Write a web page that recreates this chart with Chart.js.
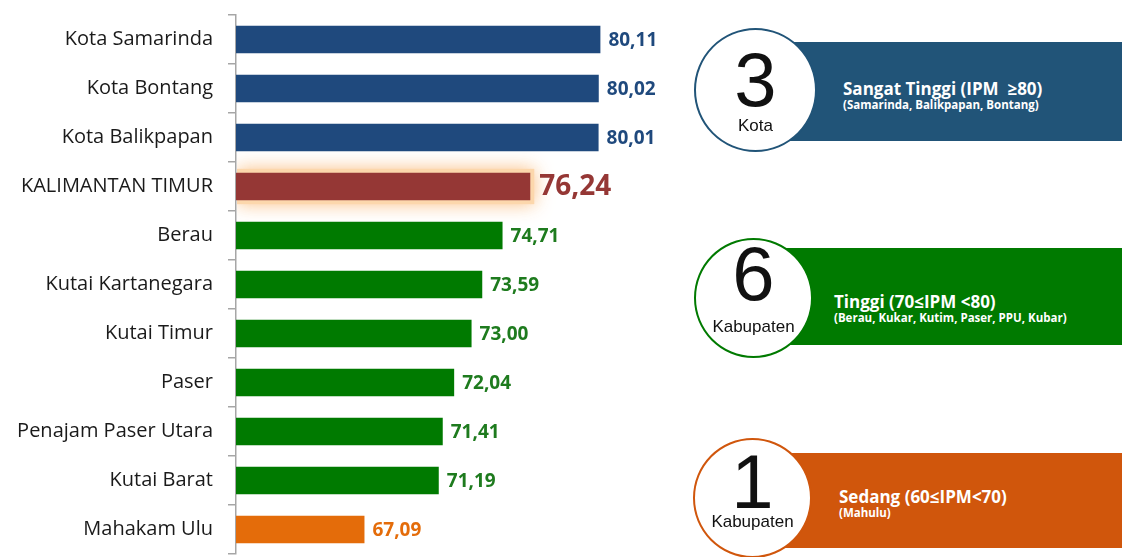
<!DOCTYPE html>
<html>
<head>
<meta charset="utf-8">
<script src="https://cdn.jsdelivr.net/npm/chart.js@4"></script>
<style>
  body { margin: 0; background: #fff; width: 1122px; height: 557px; overflow: hidden; position: relative; font-family: "Open Sans", sans-serif; }
  #wrap { position: absolute; left: 0; top: 0; width: 700px; height: 557px; }
  .band { position: absolute; left: 757px; width: 365px; color: #fff; font-family: "Open Sans", sans-serif; }
  .band .t1 { position: absolute; font-weight: bold; font-size: 17px; white-space: nowrap; line-height: 1; }
  .band .t2 { position: absolute; font-weight: bold; font-size: 11.5px; white-space: nowrap; line-height: 1; }
  .circ { position: absolute; border-radius: 50%; background: #fff; box-sizing: border-box; border: 2px solid; text-align: center; font-family: "Liberation Sans", Arial, sans-serif; color: #111; }
  .circ .num { position: absolute; left: 0; right: 0; font-size: 76px; line-height: 1; }
  .circ .sub { position: absolute; left: 0; right: 0; font-size: 17px; line-height: 1; }
</style>
</head>
<body>
<div id="wrap"><canvas id="ipm-chart"></canvas></div>

<div class="band" style="top:42px;height:99px;background:#215478;">
  <div class="t1" style="left:86px;top:38px;">Sangat Tinggi (IPM &nbsp;≥80)</div>
  <div class="t2" style="left:86px;top:57px;">(Samarinda, Balikpapan, Bontang)</div>
</div>
<div class="circ" style="left:694px;top:28px;width:123px;height:124px;border-color:#215478;">
  <div class="num" style="top:12px;">3</div>
  <div class="sub" style="top:87px;">Kota</div>
</div>

<div class="band" style="top:248px;height:97px;background:#007a00;">
  <div class="t1" style="left:77px;top:45px;">Tinggi (70≤IPM &lt;80)</div>
  <div class="t2" style="left:77px;top:64px;">(Berau, Kukar, Kutim, Paser, PPU, Kubar)</div>
</div>
<div class="circ" style="left:694px;top:238px;width:119px;height:120px;border-color:#007a00;">
  <div class="num" style="top:-4px;">6</div>
  <div class="sub" style="top:78px;">Kabupaten</div>
</div>

<div class="band" style="top:453px;height:95px;background:#d0560c;">
  <div class="t1" style="left:82px;top:35px;">Sedang (60≤IPM&lt;70)</div>
  <div class="t2" style="left:82px;top:54px;">(Mahulu)</div>
</div>
<div class="circ" style="left:693px;top:438px;width:119px;height:120px;border-color:#d0560c;">
  <div class="num" style="top:4px;">1</div>
  <div class="sub" style="top:73px;">Kabupaten</div>
</div>

<script>
// data IPM per kabupaten/kota
const wilayah = ['Kota Samarinda', 'Kota Bontang', 'Kota Balikpapan', 'KALIMANTAN TIMUR', 'Berau',
    'Kutai Kartanegara', 'Kutai Timur', 'Paser', 'Penajam Paser Utara', 'Kutai Barat', 'Mahakam Ulu'];
const ipm = [80.11, 80.02, 80.01, 76.24, 74.71, 73.59, 73.00, 72.04, 71.41, 71.19, 67.09];
const warnaBar = ['#1f497d', '#1f497d', '#1f497d', '#953735', '#007a00', '#007a00', '#007a00',
    '#007a00', '#007a00', '#007a00', '#e46c0a'];
const warnaLabel = ['#1f497d', '#1f497d', '#1f497d', '#953735', '#1e7b1e', '#1e7b1e', '#1e7b1e',
    '#1e7b1e', '#1e7b1e', '#1e7b1e', '#e46c0a'];
const idxProv = 3;

// glow oranye di belakang bar provinsi
const glowPlugin = {
    id: 'glow',
    beforeDatasetsDraw(chart) {
        const bar = chart.getDatasetMeta(0).data[idxProv];
        if (!bar) return;
        const ctx = chart.ctx;
        const left = chart.chartArea.left + 1;
        const h = bar.height;
        ctx.save();
        ctx.beginPath();
        ctx.rect(left, 0, chart.width, chart.height);
        ctx.clip();
        ctx.shadowColor = 'rgba(250,185,120,0.9)';
        ctx.shadowBlur = 18;
        ctx.fillStyle = 'rgba(252,215,172,1)';
        ctx.fillRect(left, bar.y - h / 2 - 4, bar.x - left + 4, h + 8);
        ctx.restore();
    }
};

// label nilai di ujung bar (format koma)
const labelPlugin = {
    id: 'nilai',
    afterDatasetsDraw(chart) {
        const ctx = chart.ctx;
        chart.getDatasetMeta(0).data.forEach((bar, i) => {
            ctx.save();
            ctx.fillStyle = warnaLabel[i];
            ctx.font = i === idxProv ? 'bold 28px "Open Sans"' : 'bold 19px "Open Sans"';
            ctx.textBaseline = 'middle';
            ctx.fillText(ipm[i].toFixed(2).replace('.', ','), bar.x + (i === idxProv ? 9 : 8), bar.y + 1);
            ctx.restore();
        });
    }
};

new Chart(document.getElementById('ipm-chart'), {
    type: 'bar',
    data: {
        labels: wilayah,
        datasets: [{
            data: ipm,
            backgroundColor: warnaBar,
            borderWidth: 0,
            categoryPercentage: 0.62,
            barPercentage: 0.9
        }]
    },
    options: {
        indexAxis: 'y',
        responsive: true,
        maintainAspectRatio: false,
        animation: false,
        layout: { padding: { top: 15, bottom: 3, left: 0, right: 11 } },
        plugins: { legend: { display: false }, tooltip: { enabled: false } },
        scales: {
            x: { display: false, min: 60, max: 85 },
            y: {
                afterFit(scale) {
                    scale.width = 236;
                    scale.paddingTop = 0;
                    scale.paddingBottom = 0;
                },
                border: { display: true, color: '#a6a6a6', width: 1.5 },
                grid: { drawOnChartArea: false, drawTicks: true, tickLength: 8, color: '#a6a6a6', lineWidth: 1.5 },
                ticks: { color: '#1a1a1a', padding: 15, font: { family: 'Open Sans', size: 20 } }
            }
        }
    },
    plugins: [glowPlugin, labelPlugin]
});
</script>
</body>
</html>
